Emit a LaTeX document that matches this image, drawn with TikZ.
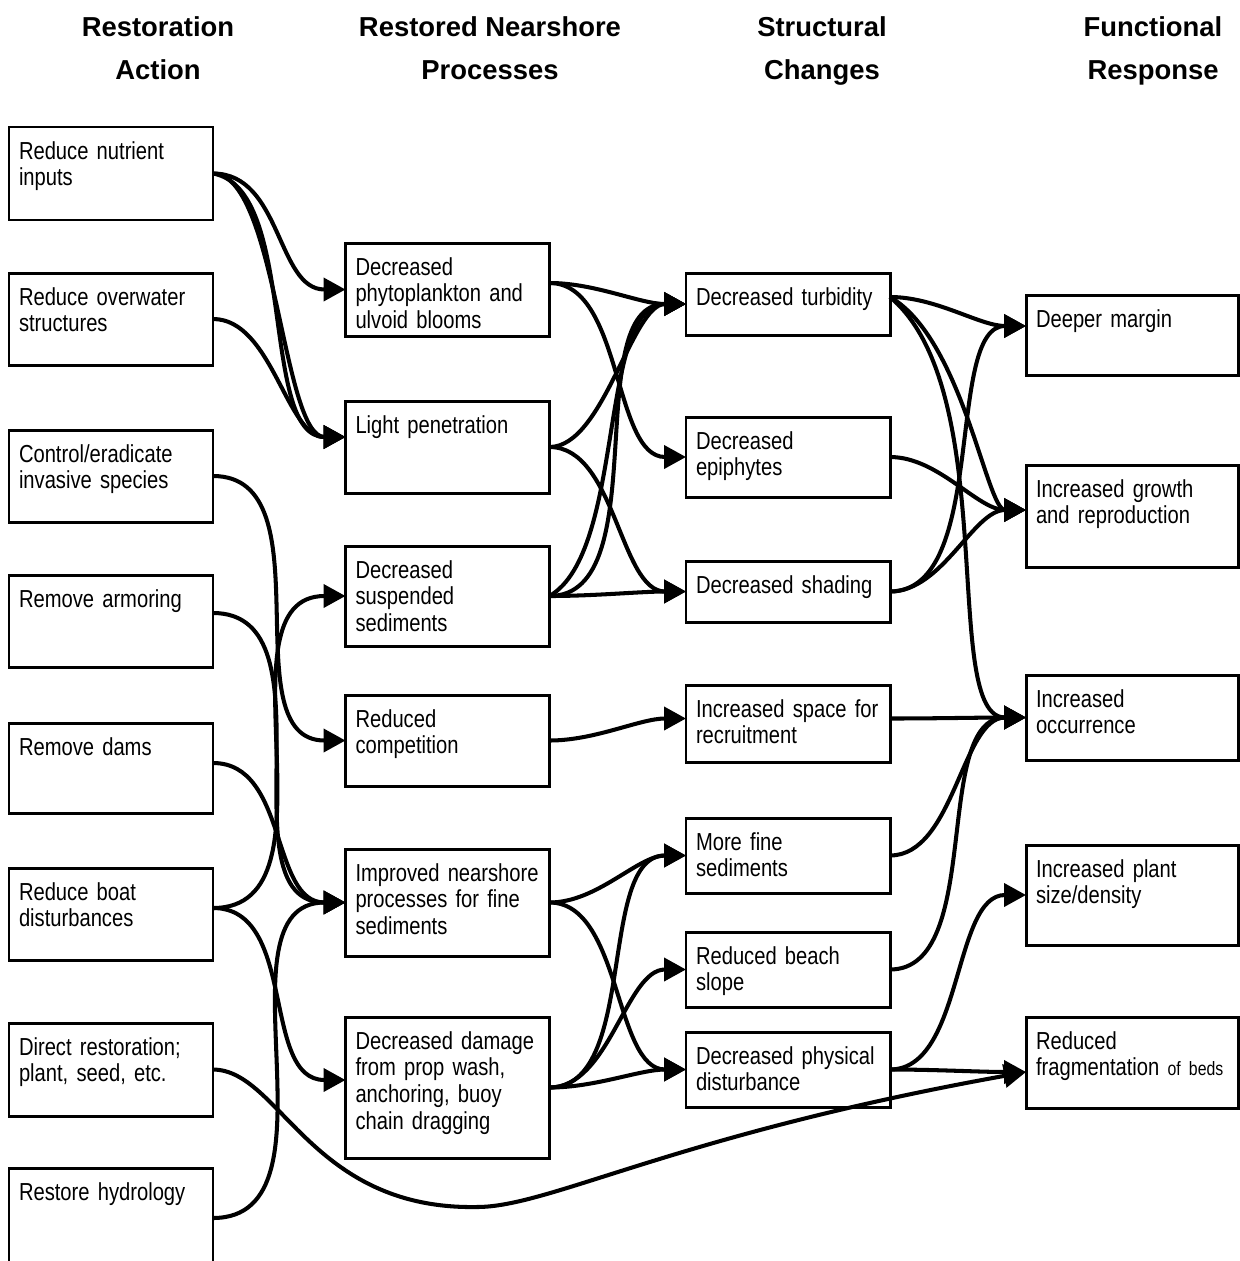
\documentclass[tikz,border=0pt]{standalone}
\usepackage{fontspec}
\setmainfont{Liberation Sans}
\newfontfamily\boxfont{Liberation Sans}[FakeStretch=0.82]
\usepackage{tikz}
\usetikzlibrary{arrows.meta,positioning}
\tikzset{%
	stage/.style = {draw, rectangle, line width=1.7pt, outer sep=0pt, text width=3.68cm, inner xsep=0.2cm, inner ysep=0.29cm,
		text height=0.35cm, text depth=#1, align=left, font=\boxfont\fontsize{14pt}{15.2pt}\selectfont}, % box, #1 = depth below first line
	wide/.style  = {text width=3.84cm}, % last column
	head/.style  = {align=center, inner sep=0pt, anchor=north, font=\bfseries\fontsize{15.6pt}{24.4pt}\selectfont}, % column title
	flow/.style  = {line width=2.3pt, looseness=0.85, -{Triangle[length=0.44cm,width=0.46cm]}},
}

\begin{document}
\begin{tikzpicture}
	\useasboundingbox (0,0) rectangle (24.8,-25.22);

	\node [head] (h1) at (3.16,-0.32) {Restoration\\Action};
	\node [head] (h2) at (9.8,-0.32) {Restored Nearshore\\Processes};
	\node [head] (h3) at (16.44,-0.32) {Structural\\Changes};
	\node [head] (h4) at (23.06,-0.32) {Functional\\Response};

	\node [stage=0.93cm, anchor=north] (a1) at (2.22,-2.54) {Reduce nutrient\\inputs};
	\node [stage=0.91cm] (a2) [below=1.06cm of a1] {Reduce overwater\\structures};
	\node [stage=0.91cm] (a3) [below=1.30cm of a2] {Control/eradicate\\invasive species};
	\node [stage=0.91cm] (a4) [below=1.06cm of a3] {Remove armoring};
	\node [stage=0.87cm] (a5) [below=1.12cm of a4] {Remove dams};
	\node [stage=0.91cm] (a6) [below=1.10cm of a5] {Reduce boat\\disturbances};
	\node [stage=0.93cm] (a7) [below=1.26cm of a6] {Direct restoration;\\plant, seed, etc.};
	\node [stage=1.07cm] (a8) [below=1.04cm of a7] {Restore hydrology};

	\node [stage=0.93cm, anchor=north] (b1) at (8.95,-4.86) {Decreased\\phytoplankton and\\ulvoid blooms};
	\node [stage=0.91cm] (b2) [below=1.30cm of b1] {Light penetration};
	\node [stage=1.07cm] (b3) [below=1.06cm of b2] {Decreased\\suspended\\sediments};
	\node [stage=0.89cm] (b4) [below=0.98cm of b3] {Reduced\\competition};
	\node [stage=1.21cm] (b5) [below=1.26cm of b4] {Improved nearshore\\processes for fine\\sediments};
	\node [stage=1.89cm] (b6) [below=1.22cm of b5] {Decreased damage\\from prop wash,\\anchoring, buoy\\chain dragging};

	\node [stage=0.31cm, anchor=north] (c1) at (15.76,-5.46) {Decreased turbidity};
	\node [stage=0.67cm] (c2) [below=1.64cm of c1] {Decreased\\epiphytes};
	\node [stage=0.29cm] (c3) [below=1.28cm of c2] {Decreased shading};
	\node [stage=0.61cm] (c4) [below=1.26cm of c3] {Increased space for\\recruitment};
	\node [stage=0.57cm] (c5) [below=1.12cm of c4] {More fine\\sediments};
	\node [stage=0.57cm] (c6) [below=0.78cm of c5] {Reduced beach\\slope};
	\node [stage=0.57cm] (c7) [below=0.50cm of c6] {Decreased physical\\disturbance};

	\node [stage=0.67cm, wide, anchor=north] (d1) at (22.64,-5.9) {Deeper margin};
	\node [stage=1.11cm, wide] (d2) [below=1.80cm of d1] {Increased growth\\and reproduction};
	\node [stage=0.77cm, wide] (d3) [below=2.16cm of d2] {Increased\\occurrence};
	\node [stage=1.07cm, wide] (d4) [below=1.70cm of d3] {Increased plant\\size/density};
	\node [stage=0.89cm, wide] (d5) [below=1.44cm of d4] {Reduced\\fragmentation {\fontsize{11pt}{13pt}\selectfont of beds}};

	\draw[flow] (a1.east) to[out=0,in=180,looseness=1] (b1.west);
	\draw[flow] (a1.east) to[out=0,in=180,looseness=0.55] ([yshift=0.2cm]b2.west);
	\draw[flow] (a1.east) to[out=-10,in=180,looseness=0.75] ([yshift=0.2cm]b2.west);
	\draw[flow] (a2.east) to[out=0,in=180] ([yshift=0.2cm]b2.west);
	\draw[flow] (a3.east) to[out=0,in=180,looseness=1] (b4.west);
	\draw[flow] ([yshift=0.16cm]a4.east) to[out=0,in=180,looseness=1] (b5.west);
	\draw[flow] ([yshift=0.1cm]a5.east) to[out=0,in=180,looseness=1] (b5.west);
	\draw[flow] ([yshift=0.12cm]a6.east) to[out=0,in=180,looseness=1] (b3.west);
	\draw[flow] ([yshift=0.12cm]a6.east) to[out=0,in=180,looseness=1] ([yshift=0.15cm]b6.west);
	\draw[flow] (a8.east) to[out=0,in=180,looseness=1] (b5.west);
	\draw[flow] (a7.east) .. controls (5.6,-21.4) and (6.2,-24.2) .. (9.54,-24.14)
		.. controls (11,-24.14) and (13.5,-22.7) .. ([yshift=-0.19cm]d5.west);

	\draw[flow] ([yshift=0.13cm]b1.east) to[out=0,in=180] (c1.west);
	\draw[flow] ([yshift=0.13cm]b1.east) to[out=0,in=180] (c2.west);
	\draw[flow] (b2.east) to[out=0,in=180,looseness=0.7] (c1.west);
	\draw[flow] (b2.east) to[out=0,in=180] (c3.west);
	\draw[flow] (b3.east) to[out=0,in=180] (c1.west);
	\draw[flow] (b3.east) to[out=30,in=180,looseness=0.7] (c1.west);
	\draw[flow] (b3.east) to[out=0,in=180] (c3.west);
	\draw[flow] (b4.east) to[out=0,in=180] ([yshift=0.1cm]c4.west);
	\draw[flow] (b5.east) to[out=0,in=180] (c5.west);
	\draw[flow] (b5.east) to[out=0,in=180] (c7.west);
	\draw[flow] (b6.east) to[out=0,in=180] (c5.west);
	\draw[flow] (b6.east) to[out=0,in=180] (c6.west);
	\draw[flow] (b6.east) to[out=0,in=180] (c7.west);

	\draw[flow] ([yshift=0.14cm]c1.east) to[out=0,in=180] ([yshift=0.18cm]d1.west);
	\draw[flow] ([yshift=0.14cm]c1.east) to[out=-30,in=180,out looseness=0.85,in looseness=0.4] ([yshift=0.12cm]d2.west);
	\draw[flow] ([yshift=0.14cm]c1.east) to[out=-40,in=180,out looseness=0.85,in looseness=0.5] (d3.west);
	\draw[flow] (c2.east) to[out=0,in=180] ([yshift=0.12cm]d2.west);
	\draw[flow] (c3.east) to[out=0,in=180,out looseness=0.85,in looseness=0.7] ([yshift=0.18cm]d1.west);
	\draw[flow] (c3.east) to[out=0,in=180] ([yshift=0.12cm]d2.west);
	\draw[flow] ([yshift=0.1cm]c4.east) to[out=0,in=180] (d3.west);
	\draw[flow] (c5.east) to[out=0,in=180] (d3.west);
	\draw[flow] (c6.east) to[out=0,in=180] (d3.west);
	\draw[flow] (c7.east) to[out=0,in=180] (d4.west);
	\draw[flow] (c7.east) to[out=0,in=180] ([yshift=-0.19cm]d5.west);
\end{tikzpicture}
\end{document}
